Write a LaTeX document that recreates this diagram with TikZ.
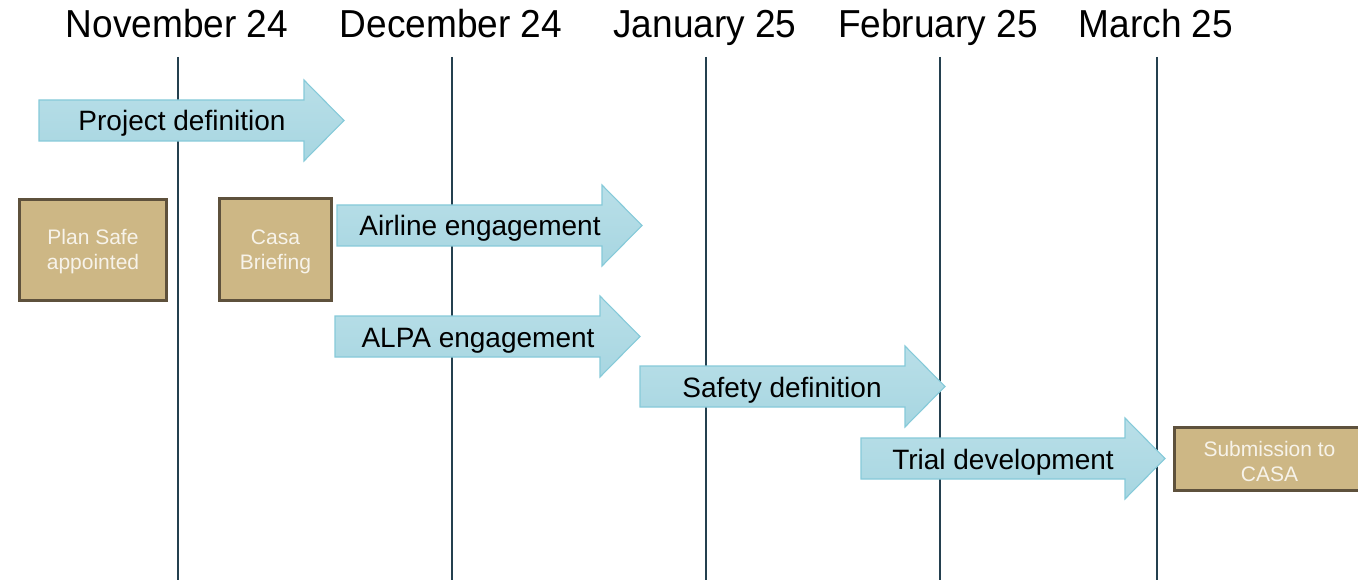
\documentclass[tikz,border=0pt]{standalone}
\usepackage{fontspec}
\setmainfont{Liberation Sans}
\newfontfamily\headfont[FakeStretch=0.95]{Liberation Sans}
\definecolor{arrowtop}{HTML}{B9DFE8}
\definecolor{arrowbot}{HTML}{A7D6E1}
\definecolor{arrowedge}{HTML}{86CAD9}
\definecolor{boxfill}{HTML}{CDB785}
\definecolor{boxedge}{HTML}{5E513C}
\definecolor{boxtext}{HTML}{F7F3EA}
\definecolor{gridline}{HTML}{24404F}
\tikzset{
  headlabel/.style={font=\headfont\fontsize{39}{44}\selectfont, anchor=base, inner sep=0pt},
  arrowlabel/.style={font=\fontsize{28}{31}\selectfont, anchor=base, inner sep=0pt},
  milestone/.style={draw=boxedge, line width=3pt, fill=boxfill},
  milestonetext/.style={text=boxtext, align=center, font=\fontsize{21}{25}\selectfont, inner sep=0pt},
  timeline/.style={draw=gridline, line width=1.3pt},
  phasearrow/.style={top color=arrowtop, bottom color=arrowbot, draw=arrowedge, line width=1.1pt, line join=miter},
}
% #1 name, #2 x start, #3 x tip, #4 y centre
\newcommand\phasearrowpath[4]{%
  \coordinate (#1-tail) at (#2,#4);
  \coordinate (#1-tip) at (#3,#4);
  \path[phasearrow] (#2,#4-20.5) -- (#3-40,#4-20.5) -- (#3-40,#4-40.5) -- (#1-tip)
    -- (#3-40,#4+40.5) -- (#3-40,#4+20.5) -- (#2,#4+20.5) -- cycle;
}
\begin{document}
\begin{tikzpicture}[x=1pt,y=-1pt]
\clip (0,0) rectangle (1358,580);
\useasboundingbox (0,0) rectangle (1358,580);

% header labels
\node[headlabel] (nov) at (177,38) {November 24};
\node[headlabel] (dec) at (451,38) {December 24};
\node[headlabel] (jan) at (705,38) {January 25};
\node[headlabel] (feb) at (938,38) {February 25};
\node[headlabel] (mar) at (1156,38) {March 25};

% vertical lines
\foreach \n/\x in {nov/178, dec/452, jan/706, feb/940, mar/1157}{
  \coordinate (\n-top) at (\x,57);
  \coordinate (\n-bot) at (\x,582);
  \draw[timeline] (\n-top) -- (\n-bot);
}

% phase arrows
\phasearrowpath{proj}{39}{344}{120.5}
\node[arrowlabel] (projt) at (182,131) {Project definition};

\phasearrowpath{air}{337}{642}{225.5}
\node[arrowlabel] (airt) at (480,236) {Airline engagement};

\phasearrowpath{alpa}{335}{640}{336.5}
\node[arrowlabel] (alpat) at (478,347) {ALPA engagement};

\phasearrowpath{safe}{640}{945}{386.5}
\node[arrowlabel] (safet) at (782,397) {Safety definition};

\phasearrowpath{trial}{861}{1165}{458.5}
\node[arrowlabel] (trialt) at (1003,469) {Trial development};

% milestones
\node[milestone, minimum width=147pt, minimum height=101pt] (plan) at (93,250) {};
\node[milestonetext] (plant) at (93,252) {Plan Safe\\appointed};
\node[milestone, minimum width=112pt, minimum height=102pt] (casa) at (275.5,249.5) {};
\node[milestonetext] (casat) at (275.5,252) {Casa\\Briefing};
\node[milestone, minimum width=192pt, minimum height=63pt] (sub) at (1270,459) {};
\node[milestonetext] (subt) at (1269.5,461) {Submission to\\CASA};
\end{tikzpicture}
\end{document}
